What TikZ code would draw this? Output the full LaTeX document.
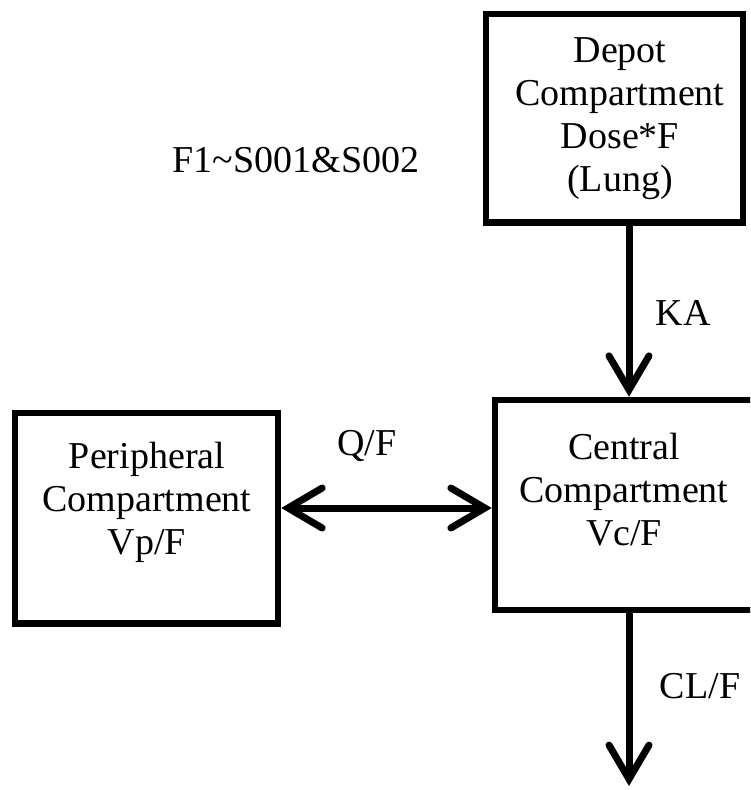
\documentclass[tikz,border=0pt]{standalone}
\usepackage{fontspec}
\setmainfont{Liberation Serif}
\usetikzlibrary{arrows.meta,calc}
\begin{document}
\begin{tikzpicture}[x=1pt,y=-1pt,
  box/.style={draw, line width=6.5pt, inner sep=0pt},
  lbl/.style={font=\fontsize{38}{43}\selectfont, align=center, inner sep=0pt},
  barb/.style={Straight Barb[length=34pt,width=40pt,line cap=round]},
  flow/.style={line width=7pt, -{Straight Barb[length=34pt,width=40pt,line cap=round]}},
  biflow/.style={line width=7pt, {Straight Barb[length=34pt,width=40pt,line cap=round]}-{Straight Barb[length=34pt,width=40pt,line cap=round]}},
]
\useasboundingbox (0,0) rectangle (750,790);
\clip (0,0) rectangle (750,790);
\fill[white] (0,0) rectangle (750,790);

% boxes
\node[box, minimum width=257pt, minimum height=208.5pt] (depot) at (614.5,118) {};
\node[box, minimum width=261pt, minimum height=210pt] (cen) at (625.5,505) {};
\node[box, minimum width=263pt, minimum height=210.5pt] (peri) at (146.5,518) {};

% box texts
\node[lbl] (deptxt) at (620,119) {Depot\\Compartment\\Dose*F\\(Lung)};
\node[lbl] (centxt) at (624,490) {Central\\Compartment\\Vc/F};
\node[lbl] (pertxt) at (147,502) {Peripheral\\Compartment\\Vp/F};

% free labels
\node[lbl] (flbl) at (296,160) {F1\textasciitilde S001\&S002};
\node[lbl] (ka) at (683,313) {KA};
\node[lbl] (qf) at (367,446) {Q/F};
\node[lbl] (clf) at (700,686) {CL/F};

% connectors
\coordinate (ax) at (629,0);
\coordinate (qy) at (0,508);
\coordinate (sink) at (629,786);
\draw[flow] (depot.south -| ax) -- (cen.north -| ax);
\draw[flow] (cen.south -| ax) -- (sink);
\draw[biflow] (peri.east |- qy) -- (cen.west |- qy);
\end{tikzpicture}
\end{document}
